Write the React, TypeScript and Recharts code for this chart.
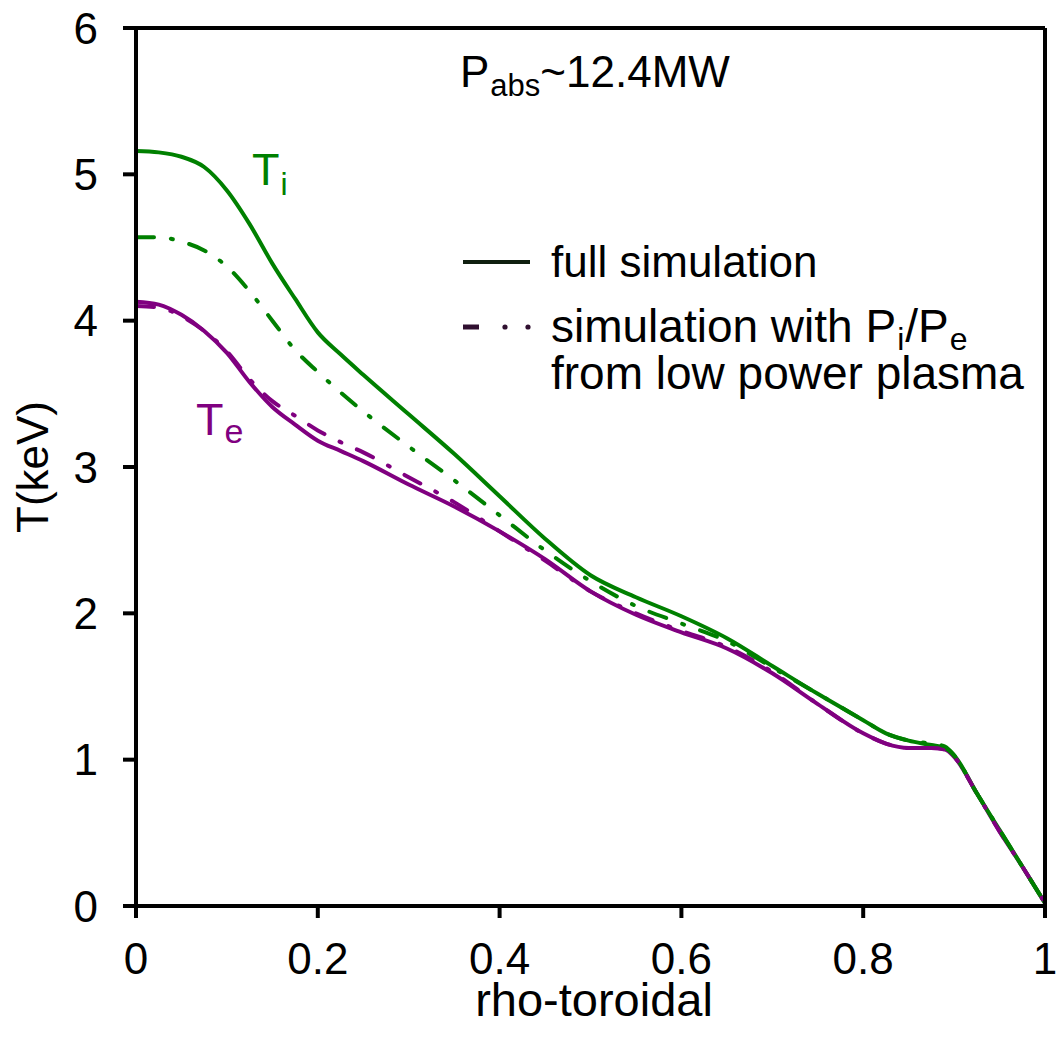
import { LineChart, Line, XAxis, YAxis } from "recharts";

const rho = [0, 0.025, 0.05, 0.075, 0.1, 0.125, 0.15, 0.175, 0.2, 0.225, 0.25, 0.3, 0.35, 0.4, 0.45, 0.5, 0.55, 0.6, 0.65, 0.7, 0.75, 0.8, 0.825, 0.85, 0.875, 0.89, 0.9, 0.925, 0.95, 0.975, 1.0];
const tiFull = [5.16, 5.15, 5.12, 5.05, 4.89, 4.66, 4.39, 4.15, 3.92, 3.77, 3.63, 3.36, 3.09, 2.8, 2.51, 2.26, 2.11, 1.98, 1.83, 1.64, 1.45, 1.27, 1.18, 1.13, 1.1, 1.08, 1.03, 0.77, 0.52, 0.27, 0.02];
const tiLow = [4.57, 4.57, 4.54, 4.48, 4.37, 4.2, 4.0, 3.8, 3.65, 3.51, 3.38, 3.14, 2.91, 2.67, 2.43, 2.22, 2.05, 1.93, 1.81, 1.63, 1.45, 1.27, 1.18, 1.13, 1.11, 1.09, 1.03, 0.77, 0.52, 0.27, 0.02];
const teFull = [4.13, 4.11, 4.04, 3.93, 3.78, 3.58, 3.41, 3.29, 3.18, 3.11, 3.04, 2.88, 2.73, 2.56, 2.37, 2.15, 1.99, 1.87, 1.76, 1.59, 1.38, 1.18, 1.11, 1.08, 1.08, 1.07, 1.02, 0.77, 0.51, 0.27, 0.02];
const teLow = [4.1, 4.09, 4.03, 3.93, 3.79, 3.6, 3.45, 3.35, 3.25, 3.17, 3.1, 2.93, 2.76, 2.56, 2.36, 2.15, 2.0, 1.88, 1.77, 1.6, 1.38, 1.18, 1.11, 1.08, 1.08, 1.07, 1.02, 0.77, 0.51, 0.27, 0.02];

const xTicks = [0, 0.2, 0.4, 0.6, 0.8, 1];
const yTicks = [0, 1, 2, 3, 4, 5, 6];

const data = rho.map((x, i) => ({
  x,
  tiFull: tiFull[i],
  tiLow: tiLow[i],
  teFull: teFull[i],
  teLow: teLow[i],
}));

const GREEN = "#008000";
const PURPLE = "#800080";
const FONT = "'Liberation Sans', Arial, sans-serif";
const DASHDOT = "18 17 2 17";

const axisLine = { stroke: "#000", strokeWidth: 4 };
const tickLine = { stroke: "#000", strokeWidth: 4 };
const tickStyle = { fill: "#000", fontSize: 44, fontFamily: FONT };

export default function App() {
  return (
    <div style={{ position: "absolute", left: 0, top: 0, width: 1058, height: 1043, background: "#fff" }}>
      <LineChart width={1058} height={1043} data={data} margin={{ top: 0, right: 0, bottom: 0, left: 0 }}>
        <XAxis
          dataKey="x"
          type="number"
          domain={[0, 1]}
          ticks={xTicks}
          height={137}
          axisLine={axisLine}
          tickLine={tickLine}
          tickSize={12}
          tickMargin={25}
          tick={tickStyle}
        />
        <XAxis xAxisId="top" orientation="top" dataKey="x" type="number" domain={[0, 1]} height={28} axisLine={axisLine} tick={false} tickLine={false} />
        <YAxis
          type="number"
          domain={[0, 6]}
          ticks={yTicks}
          width={136}
          axisLine={axisLine}
          tickLine={tickLine}
          tickSize={13}
          tickMargin={25}
          tick={tickStyle}
        />
        <YAxis yAxisId="right" orientation="right" type="number" domain={[0, 6]} width={13} axisLine={axisLine} tick={false} tickLine={false} />
        <Line dataKey="teFull" type="monotone" stroke={PURPLE} strokeWidth={4} dot={false} isAnimationActive={false} />
        <Line dataKey="tiFull" type="monotone" stroke={GREEN} strokeWidth={4} dot={false} isAnimationActive={false} />
        <Line dataKey="teLow" type="monotone" stroke={PURPLE} strokeWidth={4} strokeDasharray={DASHDOT} strokeLinecap="round" dot={false} isAnimationActive={false} />
        <Line dataKey="tiLow" type="monotone" stroke={GREEN} strokeWidth={4} strokeDasharray={DASHDOT} strokeLinecap="round" dot={false} isAnimationActive={false} />
      </LineChart>

      <svg width={1058} height={1043} style={{ position: "absolute", left: 0, top: 0, pointerEvents: "none" }} fontFamily={FONT}>
        <text x={460} y={87} fontSize={44} fill="#000">
          P<tspan fontSize={31} dy={9} dx={1}>abs</tspan>
          <tspan dy={-9}>~12.4MW</tspan>
        </text>

        <text x={252} y={185} fontSize={45} fill={GREEN}>
          T<tspan fontSize={32} dy={10} dx={1}>i</tspan>
        </text>
        <text x={196} y={435} fontSize={45} fill={PURPLE}>
          T<tspan fontSize={34} dy={8} dx={1}>e</tspan>
        </text>

        <line x1={463} x2={530} y1={262} y2={262} stroke="#102010" strokeWidth={4} />
        <text x={551} y={277} fontSize={44} fill="#000">full simulation</text>

        <line x1={463} x2={479} y1={327} y2={327} stroke="#301030" strokeWidth={5} />
        <circle cx={505} cy={327} r={2.6} fill="#301030" />
        <circle cx={528} cy={327} r={2.6} fill="#301030" />
        <text x={551} y={342} fontSize={46} fill="#000">
          simulation with P<tspan fontSize={32} dy={8} dx={1}>i</tspan>
          <tspan dy={-8} dx={1}>/P</tspan>
          <tspan fontSize={32} dy={8} dx={1}>e</tspan>
        </text>
        <text x={551} y={389} fontSize={46} fill="#000">from low power plasma</text>

        <text x={594} y={1016} fontSize={47} fill="#000" textAnchor="middle">rho-toroidal</text>
        <text x={48} y={467} fontSize={44} fill="#000" textAnchor="middle" transform="rotate(-90 48 467)">T(keV)</text>
      </svg>
    </div>
  );
}
